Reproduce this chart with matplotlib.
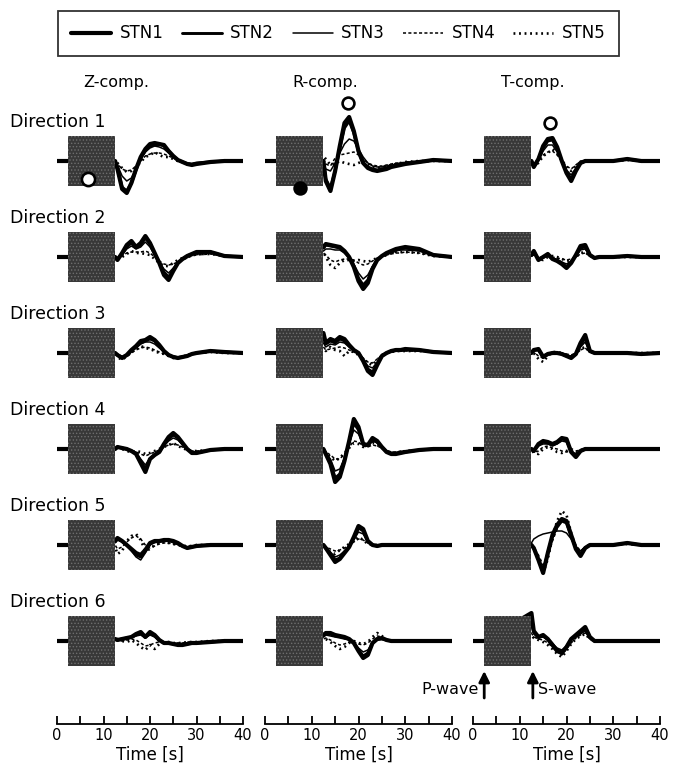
import matplotlib
matplotlib.use("Agg")
import matplotlib.pyplot as plt
from matplotlib.patches import Rectangle

plt.rcParams['font.family'] = ['DejaVu Sans']
plt.rcParams['hatch.linewidth'] = 0.6

# ---------------- data ----------------
STATIONS = ["STN1", "STN2", "STN3", "STN4", "STN5"]
COMPONENTS = ["Z-comp.", "R-comp.", "T-comp."]
DIRECTIONS = ["Direction 1", "Direction 2", "Direction 3",
              "Direction 4", "Direction 5", "Direction 6"]

T_PRE = [0, 2.4]                      # flat part before the P-wave window
V_PRE = [0, 0]
T_WAVE = [12.5, 13, 14, 15, 16, 17, 18, 19, 20, 21, 22, 23, 24, 25,
          26, 27, 28, 29, 30, 33, 36, 40]

BOX_T = [2.4, 12.4]                   # gray box (P-to-S window), seconds
BOX_AMP = 25                          # half height of the box

TICKS_MAJOR = [0, 10, 20, 30, 40]
TICKS_MINOR = [5, 15, 25, 35]

# amplitude values (STN1..STN5) per direction / component
D1_Z = [[0, -8, -28, -32, -22, -8, 4, 12, 17, 18, 17, 16, 10, 5, 1, -1, -3, -4, -3, -1, 0, 0],
        [0, -6, -26, -30, -22, -9, 3, 10, 15, 16, 17, 15, 10, 5, 1, -1, -3, -3, -2, -1, 0, 0],
        [0, -4, -15, -20, -17, -8, 2, 9, 13, 15, 14, 12, 8, 4, 1, -1, -2, -3, -2, -1, 0, 0],
        [0, -3, -8, -10, -9, -5, 0, 5, 7, 8, 8, 7, 5, 3, 1, 0, -2, -3, -2, -1, 0, 0],
        [0, -2, -7, -11, -10, -6, -1, 4, 6, 9, 6, 4, 4, 2, 0, -1, -3, -4, -3, -1, 0, 0]]
D1_R = [[0, -20, -30, -10, 15, 38, 44, 30, 10, -2, -7, -9, -10, -9, -8, -6, -5, -4, -3, -1, 1, 0],
        [0, -18, -27, -10, 12, 33, 40, 28, 9, -2, -6, -8, -9, -8, -7, -5, -4, -3, -2, -1, 1, 0],
        [0, -8, -10, -2, 8, 17, 22, 20, 12, 4, -2, -5, -6, -6, -5, -4, -3, -2, -2, 0, 0, 0],
        [2, -3, -5, 3, 6, 7, 8, 9, 6, 2, -2, -4, -5, -5, -4, -3, -2, -2, -1, 0, 0, 0],
        [5, 2, -4, -2, 0, -2, -3, -4, -2, 0, -3, -6, -7, -6, -5, -4, -3, -2, -1, 0, 0, 0]]
D1_T = [[0, -6, 2, 15, 22, 23, 14, 0, -12, -20, -10, -2, 0, 0, 0, 0, 0, 0, 0, 2, 0, 0],
        [0, -5, 2, 13, 20, 21, 12, 0, -11, -18, -9, -2, 0, 0, 0, 0, 0, 0, 0, 2, 0, 0],
        [0, -4, 1, 10, 16, 16, 9, 0, -9, -14, -7, -1, 0, 0, 0, 0, 0, 0, 0, 1, 0, 0],
        [0, -3, 0, 6, 9, 10, 6, 0, -5, -8, -4, 0, 0, 0, 0, 0, 0, 0, 0, 1, 0, 0],
        [0, -4, -2, 5, 8, 12, 8, 1, -6, -10, -5, -1, 0, 0, 0, 0, 0, 0, 0, 1, 0, 0]]

D2_Z = [[0, -3, 4, 12, 16, 10, 14, 21, 14, 4, -6, -18, -23, -14, -6, -2, 1, 3, 5, 5, 1, 0],
        [0, -2, 3, 10, 14, 9, 12, 19, 13, 3, -5, -15, -20, -13, -6, -2, 1, 3, 4, 5, 1, 0],
        [0, -2, 2, 8, 11, 8, 10, 15, 10, 2, -5, -12, -16, -11, -6, -2, 0, 2, 3, 4, 1, 0],
        [0, -1, 1, 4, 5, 5, 5, 6, 4, 0, -4, -7, -8, -7, -5, -3, -1, 1, 2, 3, 1, 0],
        [0, -2, 0, 3, 6, 4, 4, 3, 2, -2, -6, -9, -9, -6, -3, -1, 0, 2, 3, 3, 1, 0]]
D2_R = [[10, 13, 12, 11, 10, 6, 0, -10, -24, -32, -26, -12, -3, 1, 4, 6, 8, 9, 10, 8, 2, 0],
        [9, 12, 11, 10, 9, 5, 0, -9, -21, -28, -23, -11, -3, 1, 3, 5, 7, 8, 9, 7, 2, 0],
        [6, 8, 8, 7, 7, 4, 0, -7, -16, -22, -18, -9, -2, 1, 3, 4, 6, 7, 7, 6, 2, 0],
        [4, 2, -3, -5, -3, -2, -2, -3, -6, -8, -7, -4, -1, 1, 2, 3, 4, 4, 5, 4, 1, 0],
        [5, 0, -8, -11, -6, -3, -3, -4, -3, -4, -5, -3, -1, 0, 2, 4, 5, 5, 5, 4, 1, 0]]
D2_T = [[2, 6, -3, 0, 3, -2, -4, -7, -11, -6, 2, 11, 12, 2, -1, 0, 0, 0, 0, 1, 0, 0],
        [2, 5, -2, 0, 2, -2, -3, -6, -10, -5, 1, 9, 10, 2, -1, 0, 0, 0, 0, 1, 0, 0],
        [1, 4, -2, 0, 2, -1, -3, -5, -7, -4, 1, 7, 8, 2, 0, 0, 0, 0, 0, 1, 0, 0],
        [1, 2, -1, -1, 1, 0, -1, -2, -3, -2, 0, 3, 4, 1, 0, 0, 0, 0, 0, 0, 0, 0],
        [0, 3, -2, -3, 0, 1, 0, -2, -4, -3, 0, 4, 5, 1, 0, 0, 0, 0, 0, 0, 0, 0]]

D3_Z = [[0, -2, -5, -2, 3, 7, 12, 13, 16, 13, 8, 2, -2, -4, -5, -4, -3, -1, 0, 2, 1, 0],
        [0, -2, -4, -2, 2, 6, 10, 12, 14, 12, 7, 2, -2, -4, -5, -4, -3, -1, 0, 2, 1, 0],
        [0, -1, -4, -2, 2, 5, 9, 11, 11, 9, 5, 1, -2, -3, -4, -3, -2, -1, 0, 1, 1, 0],
        [1, -3, -6, -4, 0, 3, 5, 6, 5, 3, 1, -1, -3, -4, -4, -3, -2, -1, 0, 1, 0, 0],
        [2, -4, -7, -3, 1, 4, 7, 5, 4, 2, 0, -1, -3, -5, -5, -4, -2, -1, 0, 1, 0, 0]]
D3_R = [[20, 10, 14, 12, 16, 14, 8, 3, 0, -8, -18, -22, -12, -3, 0, 2, 3, 3, 4, 3, 1, 0],
        [16, 9, 12, 10, 14, 12, 7, 3, 0, -7, -16, -19, -11, -3, 0, 2, 3, 3, 3, 3, 1, 0],
        [10, 6, 9, 8, 11, 10, 6, 2, 0, -6, -13, -15, -9, -2, 0, 1, 2, 2, 3, 2, 1, 0],
        [6, 3, 4, 5, 6, 5, 3, 1, -1, -5, -9, -10, -6, -2, 0, 1, 2, 2, 2, 2, 1, 0],
        [4, 2, 6, 3, 2, -3, 2, 1, -2, -6, -10, -12, -7, -2, 0, 1, 2, 2, 2, 2, 1, 0]]
D3_T = [[0, 3, 4, -4, -1, 0, 0, -1, -3, -5, -1, 10, 18, 2, 0, 0, 0, 0, 0, 0, -1, 0],
        [0, 3, 3, -3, -1, 0, 0, -1, -3, -4, -1, 8, 15, 2, 0, 0, 0, 0, 0, 0, -1, 0],
        [0, 2, 3, -3, -1, 0, 0, -1, -2, -3, -1, 6, 11, 1, 0, 0, 0, 0, 0, 0, 0, 0],
        [0, 1, -3, -5, -2, 0, 0, 0, -1, -2, 0, 3, 5, 1, 0, 0, 0, 0, 0, 0, 0, 0],
        [0, 0, -6, -9, -3, 1, 1, 0, -2, -4, -1, 4, 6, 1, 0, 0, 0, 0, 0, 0, 0, 0]]

D4_Z = [[0, 2, 1, 0, -2, -5, -14, -23, -10, -6, -3, 5, 12, 16, 12, 6, 0, -4, -4, -1, 0, 0],
        [0, 2, 1, 0, -2, -4, -12, -20, -10, -6, -3, 4, 10, 14, 11, 5, 0, -3, -4, -1, 0, 0],
        [0, 1, 1, 0, -2, -4, -10, -16, -9, -5, -2, 3, 8, 11, 9, 4, 0, -3, -3, -1, 0, 0],
        [0, 1, 0, -1, -2, -3, -5, -7, -5, -3, -1, 2, 4, 5, 4, 2, 0, -2, -2, -1, 0, 0],
        [0, 2, 0, -2, -3, -2, -3, -5, -4, -2, 0, 2, 4, 6, 3, 1, -1, -2, -2, -1, 0, 0]]
D4_R = [[0, -5, -15, -33, -28, -12, 8, 30, 22, 5, 4, 11, 8, 2, -3, -5, -5, -4, -3, -1, 0, 0],
        [0, -5, -13, -29, -25, -11, 7, 26, 19, 5, 3, 10, 7, 2, -3, -4, -4, -4, -3, -1, 0, 0],
        [0, -4, -10, -22, -20, -9, 5, 19, 15, 4, 3, 8, 6, 1, -2, -4, -4, -3, -2, -1, 0, 0],
        [0, -3, -6, -10, -10, -5, 2, 8, 7, 3, 2, 4, 3, 1, -1, -3, -3, -2, -2, -1, 0, 0],
        [0, -4, -8, -12, -9, -4, 1, 6, 5, 2, 3, 6, 4, 1, -2, -4, -4, -3, -2, -1, 0, 0]]
D4_T = [[0, -2, 5, 8, 7, 5, 7, 11, 10, -3, -8, -2, 0, 0, 0, 0, 0, 0, 0, 0, 0, 0],
        [0, -2, 4, 7, 6, 4, 6, 10, 9, -3, -7, -2, 0, 0, 0, 0, 0, 0, 0, 0, 0, 0],
        [0, -1, 3, 5, 5, 3, 5, 8, 7, -2, -5, -1, 0, 0, 0, 0, 0, 0, 0, 0, 0, 0],
        [0, -3, -2, 2, 3, 1, 0, -2, -3, -2, -2, -1, 0, 0, 0, 0, 0, 0, 0, 0, 0, 0],
        [0, -4, -5, 0, 2, 0, -3, -4, -2, 0, -3, -1, 0, 0, 0, 0, 0, 0, 0, 0, 0, 0]]

D5_Z = [[4, 7, 4, 0, -4, -8, -10, -5, 2, 4, 4, 5, 5, 4, 2, -1, -3, -2, -1, 0, 0, 0],
        [3, 6, 4, 0, -5, -10, -12, -6, 1, 3, 4, 4, 5, 3, 1, -1, -3, -2, -1, 0, 0, 0],
        [3, 5, 3, -1, -6, -12, -15, -8, 0, 3, 3, 4, 4, 3, 1, -1, -2, -2, -1, 0, 0, 0],
        [0, -4, -2, 3, 7, 9, 6, 0, -3, -1, 1, 2, 2, 1, 0, -1, -1, -1, 0, 0, 0, 0],
        [-2, -9, -6, 4, 9, 11, 5, -6, -4, 0, 2, 3, 2, 1, 0, -1, -1, -1, 0, 0, 0, 0]]
D5_R = [[0, -3, -10, -17, -14, -8, -2, 8, 19, 16, 4, 0, -1, 0, 0, 0, 0, 0, 0, 0, 0, 0],
        [0, -3, -9, -15, -13, -7, -2, 7, 17, 14, 4, 0, -1, 0, 0, 0, 0, 0, 0, 0, 0, 0],
        [0, -2, -7, -12, -10, -6, -1, 5, 13, 11, 3, 0, -1, 0, 0, 0, 0, 0, 0, 0, 0, 0],
        [0, -2, -4, -6, -5, -3, 0, 3, 6, 5, 2, 0, 0, 0, 0, 0, 0, 0, 0, 0, 0, 0],
        [0, -4, -7, -9, -5, -2, 1, 4, 8, 5, 1, 0, 0, 0, 0, 0, 0, 0, 0, 0, 0, 0]]
D5_T = [[0, -3, -15, -28, -8, 10, 20, 26, 24, 10, -4, -11, -3, 0, 0, 0, 0, 0, 0, 2, 0, 0],
        [0, -3, -14, -26, -8, 9, 18, 24, 22, 9, -3, -10, -3, 0, 0, 0, 0, 0, 0, 2, 0, 0],
        [2, 6, 9, 11, 12, 13, 14, 14, 12, 6, -2, -6, -2, 0, 0, 0, 0, 0, 0, 1, 0, 0],
        [0, -2, -10, -20, -12, 4, 16, 26, 24, 12, 0, -6, -2, 0, 0, 0, 0, 0, 0, 1, 0, 0],
        [0, -4, -16, -28, -14, 8, 24, 34, 30, 12, -2, -8, -2, 0, 0, 0, 0, 0, 0, 1, 0, 0]]

D6_Z = [[2, 1, 2, 3, 4, 7, 9, 4, 9, 6, 1, -2, -2, -3, -4, -4, -3, -2, -2, -1, 0, 0],
        [2, 1, 2, 3, 4, 6, 8, 4, 8, 5, 1, -2, -2, -3, -3, -3, -3, -2, -2, -1, 0, 0],
        [1, 1, 2, 2, 3, 5, 6, 3, 6, 4, 0, -2, -2, -2, -3, -3, -2, -2, -1, -1, 0, 0],
        [0, 1, 0, 1, 2, 1, -2, -5, -4, -2, -1, -1, -1, -2, -2, -2, -1, -1, -1, 0, 0, 0],
        [0, 2, 0, -1, 1, -2, -6, -9, -4, -8, -3, -1, -1, -2, -2, -2, -1, -1, -1, 0, 0, 0]]
D6_R = [[6, 8, 8, 6, 5, 4, 2, -2, -10, -17, -14, -2, 2, 3, 1, 0, 0, 0, 0, 0, 0, 0],
        [5, 7, 7, 5, 5, 3, 2, -2, -9, -15, -12, -2, 2, 2, 1, 0, 0, 0, 0, 0, 0, 0],
        [4, 6, 5, 4, 3, 2, 1, -2, -7, -11, -9, -2, 1, 2, 1, 0, 0, 0, 0, 0, 0, 0],
        [2, 3, 1, -2, -4, -3, -1, -1, -3, -4, -2, 2, 5, 4, 1, 0, 0, 0, 0, 0, 0, 0],
        [2, 2, -1, -5, -8, -6, -2, 0, -2, -3, -1, 4, 8, 5, 1, 0, 0, 0, 0, 0, 0, 0]]
D6_T = [[28, 10, 4, 6, 2, -4, -10, -12, -6, 2, 6, 10, 14, 4, 0, 0, 0, 0, 0, 0, 0, 0],
        [22, 9, 4, 5, 2, -3, -9, -11, -6, 2, 5, 9, 12, 3, 0, 0, 0, 0, 0, 0, 0, 0],
        [15, 7, 3, 4, 1, -3, -7, -9, -5, 1, 4, 7, 10, 3, 0, 0, 0, 0, 0, 0, 0, 0],
        [8, 4, 2, 1, -2, -6, -11, -14, -8, -2, 3, 6, 8, 2, 0, 0, 0, 0, 0, 0, 0, 0],
        [6, 3, 1, -1, -4, -8, -13, -16, -10, -3, 2, 5, 7, 2, 0, 0, 0, 0, 0, 0, 0, 0]]

PANELS = [[D1_Z, D1_R, D1_T], [D2_Z, D2_R, D2_T], [D3_Z, D3_R, D3_T],
          [D4_Z, D4_R, D4_T], [D5_Z, D5_R, D5_T], [D6_Z, D6_R, D6_T]]

# markers on Direction 1: (component, time, amplitude, filled)
MARKERS = [(0, 6.6, -18, False), (1, 7.5, -27, True),
           (1, 17.8, 58, False), (2, 16.5, 38, False)]

# phase arrows (T-comp., below Direction 6)
P_TIME = 2.4
S_TIME = 12.8

# ---------------- layout / style ----------------
W, H = 677, 766
COL_PX = [(57, 243), (265, 452), (473, 660)]
TOP_PX, BOT_PX = 90, 724
ROW_BASE = [161, 257, 353, 449, 545, 641]
TITLE_X = [116, 325, 533]
ARROW_PX = (698, 671)      # tail, tip (pixel rows)
PHASE_TEXT_PX = 689

STYLES = [dict(color='black', lw=3.0, ls='-'),
          dict(color='black', lw=2.1, ls='-'),
          dict(color='black', lw=1.1, ls='-'),
          dict(color='black', lw=1.1, ls=(0, (2.0, 1.5))),
          dict(color='black', lw=1.9, ls=(0, (0.7, 1.4)))]
ZORDERS = [3.0, 3.1, 3.2, 3.3, 3.4]

fig = plt.figure(figsize=(W / 100, H / 100), dpi=100)

handles = []
for ci, (x0, x1) in enumerate(COL_PX):
    ax = fig.add_axes([x0 / W, 1 - BOT_PX / H, (x1 - x0) / W, (BOT_PX - TOP_PX) / H])
    ax.set_xlim(0, 40)
    ax.set_ylim(-BOT_PX, -TOP_PX)
    for ri, base in enumerate(ROW_BASE):
        traces = PANELS[ri][ci]
        for si, vals in enumerate(traces):
            tt = T_PRE + T_WAVE
            yy = [-base + v for v in (V_PRE + vals)]
            ln, = ax.plot(tt, yy, solid_capstyle='round', solid_joinstyle='round',
                          dash_capstyle='butt', zorder=ZORDERS[si], **STYLES[si])
            if ci == 0 and ri == 0:
                handles.append(ln)
        ax.add_patch(Rectangle((BOX_T[0], -base - BOX_AMP), BOX_T[1] - BOX_T[0], 2 * BOX_AMP,
                               facecolor='#383838', edgecolor='#6e6e6e', hatch='.....',
                               linewidth=0, zorder=5))
    for (cc, tm, am, filled) in MARKERS:
        if cc == ci:
            ax.plot([tm], [-ROW_BASE[0] + am], marker='o', ms=9.5 if cc == 0 else 8.5,
                    mfc='black' if filled else 'white', mec='black', mew=1.9, zorder=7)
    # axis styling
    for sp in ['top', 'left', 'right']:
        ax.spines[sp].set_visible(False)
    ax.spines['bottom'].set_linewidth(1.3)
    ax.set_yticks([])
    ax.set_xticks(TICKS_MAJOR)
    ax.set_xticks(TICKS_MINOR, minor=True)
    ax.tick_params(axis='x', which='both', direction='in', length=6, width=1.3,
                   labelsize=10.5, pad=3)
    ax.set_xlabel('Time [s]', fontsize=12, labelpad=2)
    ax.patch.set_alpha(0)
    fig.text(TITLE_X[ci] / W, 1 - 82 / H, COMPONENTS[ci], ha='center', va='center', fontsize=11.5)
    if ci == 2:
        for tm in (P_TIME, S_TIME):
            ax.annotate('', xy=(tm, -ARROW_PX[1]), xytext=(tm, -ARROW_PX[0]),
                        arrowprops=dict(arrowstyle='-|>', lw=2.0, color='black',
                                        mutation_scale=16, shrinkA=0, shrinkB=0))
        ax.text(P_TIME - 1.2, -PHASE_TEXT_PX, 'P-wave', ha='right', va='center', fontsize=11.5)
        ax.text(S_TIME + 1.0, -PHASE_TEXT_PX, 'S-wave', ha='left', va='center', fontsize=11.5)

for ri, base in enumerate(ROW_BASE):
    fig.text(10 / W, 1 - (base - 39) / H, DIRECTIONS[ri], ha='left', va='center', fontsize=12.5)

leg = fig.legend(handles, STATIONS, loc='center', bbox_to_anchor=(338.5 / W, 1 - 33.5 / H),
                 ncol=5, frameon=True, fancybox=False, edgecolor='black', fontsize=12,
                 handlelength=2.4, columnspacing=1.1, handletextpad=0.5, borderpad=0.8)
leg.get_frame().set_linewidth(1.3)

fig.savefig('out.png', dpi=100)
